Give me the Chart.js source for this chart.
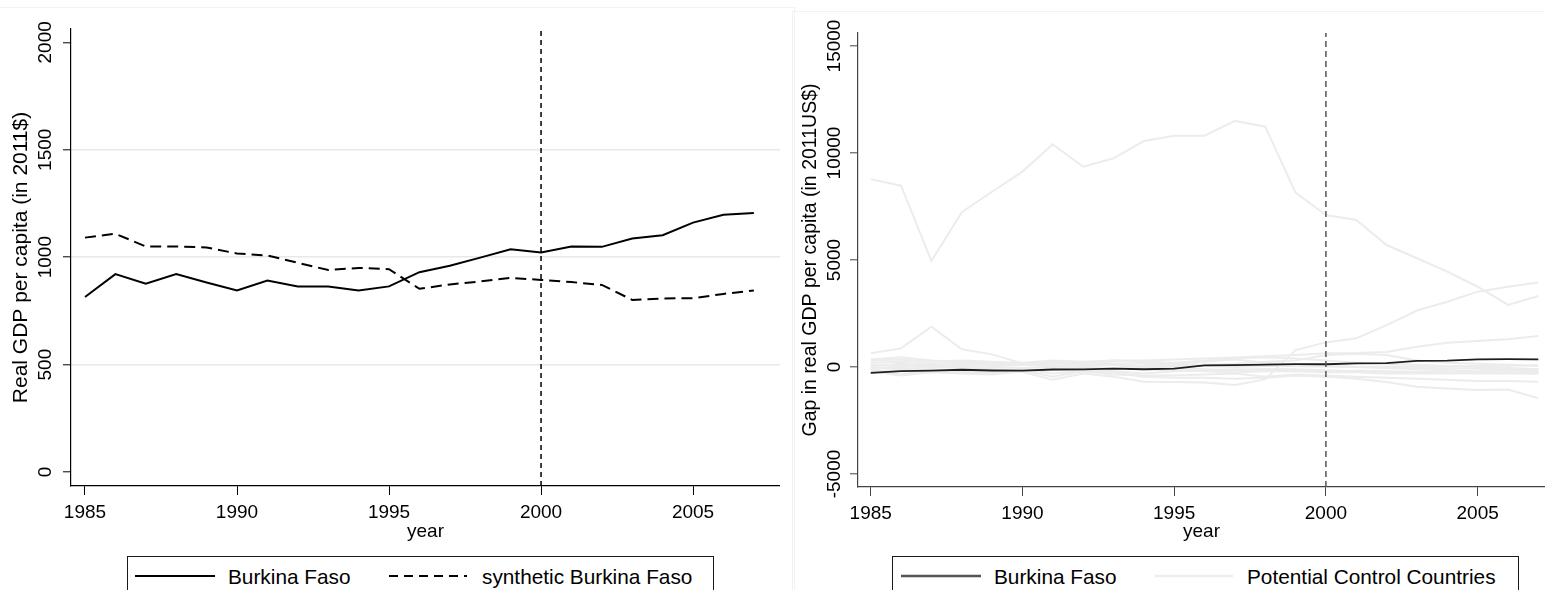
<!DOCTYPE html>
<html>
<head>
<meta charset="utf-8">
<script src="https://cdn.jsdelivr.net/npm/chart.js@4.4.1/dist/chart.umd.min.js"></script>
<style>
  html, body { margin: 0; padding: 0; background: #fff; width: 1545px; height: 590px; overflow: hidden;
    font-family: "Liberation Sans", Arial, sans-serif; }
  canvas { position: absolute; top: 0; }
  #gdpChart { left: 0; }
  #gapChart { left: 780px; }
  .region { position: absolute; border: 1px solid #f2f2f2; box-sizing: border-box; pointer-events: none; }
  .legend { position: absolute; top: 556px; height: 60px; border: 1px solid #1a1a1a; box-sizing: border-box; background: transparent; }
  .sample { position: absolute; top: 570px; }
  .lbl { position: absolute; top: 565px; font-size: 20.8px; line-height: 23px; color: #000; white-space: nowrap; }
</style>
</head>
<body>
<div class="region" style="left:-2px; top:7px; width:797px; height:600px;"></div>
<div class="region" style="left:792px; top:11px; width:760px; height:600px;"></div>
<canvas id="gdpChart" width="780" height="550"></canvas>
<canvas id="gapChart" width="765" height="550"></canvas>

<div class="legend" style="left:127px; width:587px;"></div>
<svg class="sample" style="left:135px" width="80" height="12"><line x1="0" y1="6" x2="80" y2="6" stroke="#000" stroke-width="2"/></svg>
<div class="lbl" id="lgA" style="left:228px;"></div>
<svg class="sample" style="left:389px" width="78" height="12"><line x1="0" y1="6" x2="78" y2="6" stroke="#000" stroke-width="2" stroke-dasharray="9 6"/></svg>
<div class="lbl" id="lgB" style="left:482px;"></div>

<div class="legend" style="left:892px; width:627px;"></div>
<svg class="sample" style="left:901px" width="80" height="12"><line x1="0" y1="6" x2="80" y2="6" stroke="#555" stroke-width="2.5"/></svg>
<div class="lbl" id="lgC" style="left:994px;"></div>
<svg class="sample" style="left:1155px" width="78" height="12"><line x1="0" y1="6" x2="78" y2="6" stroke="#eeeeee" stroke-width="2.5"/></svg>
<div class="lbl" id="lgD" style="left:1247px;"></div>

<script>
// ---- data ----
const years = [1985, 1986, 1987, 1988, 1989, 1990, 1991, 1992, 1993, 1994, 1995, 1996,
               1997, 1998, 1999, 2000, 2001, 2002, 2003, 2004, 2005, 2006, 2007];
const xTickYears = [1985, 1990, 1995, 2000, 2005];
const treatYear = 2000;
const gdpTicks = [0, 500, 1000, 1500, 2000];
const gapTicks = [-5000, 0, 5000, 10000, 15000];

// real GDP per capita, 2011 $
const burkinaGdp   = [815, 921, 877, 921, 882, 845, 891, 864, 864, 845, 864, 930,
                      960, 998, 1037, 1022, 1050, 1048, 1087, 1102, 1161, 1197, 1206];
const syntheticGdp = [1091, 1109, 1050, 1050, 1045, 1017, 1008, 974, 940, 950, 944, 853,
                      873, 887, 904, 894, 884, 871, 801, 808, 809, 829, 845];

// gap between each unit and its synthetic counterpart, 2011 US$
const burkinaGap = [-276, -188, -173, -129, -163, -172, -117, -110, -76, -105, -80, 77,
                    87, 111, 133, 128, 166, 177, 286, 294, 352, 368, 361];
const control01 = [8780, 8470, 4950, 7230, 8190, 9130, 10410, 9360, 9750, 10560, 10810, 10810,
                   11500, 11230, 8150, 7100, 6870, 5700, 5080, 4460, 3750, 2900, 3320];
const control02 = [-150, -200, -100, -250, -200, -220, -600, -300, -450, -690, -700, -720,
                   -840, -580, 790, 1150, 1340, 1960, 2640, 3050, 3520, 3750, 3950];
const control03 = [640, 870, 1880, 830, 590, 170, 250, 150, 100, 200, 150, 250,
                   350, 200, 100, 50, 0, -50, -100, -150, -200, -150, -200];
const control04 = [300, 350, 250, 300, 250, 200, 300, 250, 300, 300, 350, 400,
                   450, 500, 560, 640, 650, 700, 950, 1130, 1220, 1300, 1450];
const control05 = [-100, -350, -150, -300, -250, -150, -450, -200, -250, -450, -500, -500,
                   -550, -500, -400, -450, -550, -700, -920, -1000, -1075, -1050, -1460];
const control06 = [50, 150, 50, 100, 150, 100, 50, 150, 100, 0, 50, 100,
                   150, 250, 300, 560, 620, 560, 300, 200, 150, 100, 50];
const control07 = [-300, -100, -250, -200, -300, -100, -300, -200, -350, -400, -400, -350,
                   -300, -450, -350, -400, -450, -500, -550, -600, -650, -650, -690];
const control08 = [200, 250, 150, 200, 180, 150, 200, 250, 180, 150, 120, 100,
                   80, 60, 40, 20, 0, -20, -40, -60, -80, -100, -120];
const control09 = [-200, -400, -250, -300, -350, -200, -100, -150, -200, -300, -200, -150,
                   -100, -120, -150, -200, -180, -200, -220, -250, -260, -270, -280];
const control10 = [100, 50, 100, 50, 0, -50, 0, 50, 100, 0, -50, -100,
                   -150, -100, -100, -150, -200, -220, -250, -280, -300, -300, -320];
const control11 = [350, 450, 300, 250, 200, 100, 150, 200, 300, 250, 200, 300,
                   400, 450, 400, 300, 200, 150, 100, 50, 0, -50, -100];
const control12 = [0, -100, 0, -50, -100, -150, -100, -50, -50, -100, -150, -200,
                   -250, -200, -200, -250, -250, -300, -300, -300, -280, -260, -250];
const control13 = [-50, 0, 50, 0, 50, 100, 50, 0, -50, 50, 100, 50,
                   0, 50, 100, 50, 0, 20, 30, 40, 50, 60, 80];
const controlGaps = [control01, control02, control03, control04, control05, control06, control07,
                     control08, control09, control10, control11, control12, control13];

const gdpRange = { min: -65, max: 2062 };
const gapRange = { min: -5607, max: 15607 };
const yearRange = { min: 1984.54, max: 2007.86 };
const gapYearRange = { min: 1984.58, max: 2007.22 };

const txt = {
  gdpTitle: 'Real GDP per capita (in 2011$)',
  gapTitle: 'Gap in real GDP per capita (in 2011US$)',
  xTitle: 'year',
  bf: 'Burkina Faso',
  synth: 'synthetic Burkina Faso',
  controls: 'Potential Control Countries'
};
document.getElementById('lgA').textContent = txt.bf;
document.getElementById('lgB').textContent = txt.synth;
document.getElementById('lgC').textContent = txt.bf;
document.getElementById('lgD').textContent = txt.controls;

// ---- helpers ----
const FONT = '"Liberation Sans", Arial, sans-serif';
const pts = (vals) => years.map((yr, i) => ({ x: yr, y: vals[i] }));

// y tick labels drawn rotated, Stata style
const rotatedYTicks = {
  id: 'rotatedYTicks',
  afterDraw(chart, args, opts) {
    const ys = chart.scales.y, ctx = chart.ctx;
    ctx.save();
    ctx.font = '19px ' + FONT;
    ctx.fillStyle = opts.color || '#000';
    ctx.textAlign = 'center';
    ctx.textBaseline = 'middle';
    ys.ticks.forEach(t => {
      const py = ys.getPixelForValue(t.value);
      ctx.save();
      ctx.translate(chart.chartArea.left - opts.offset, py);
      ctx.rotate(-Math.PI / 2);
      ctx.fillText(String(t.value), 0, 0);
      ctx.restore();
    });
    ctx.restore();
  }
};

function xScale(range, axisColor, height) {
  return {
    type: 'linear', min: range.min, max: range.max,
    afterBuildTicks: s => { s.ticks = xTickYears.map(v => ({ value: v })); },
    afterFit: s => { s.height = height; },
    grid: { drawOnChartArea: false, tickLength: 9, tickColor: axisColor, tickWidth: 1 },
    border: { color: axisColor, width: 1.2 },
    ticks: { color: '#000', font: { family: FONT, size: 19 }, padding: 6, maxRotation: 0, autoSkip: false,
             callback: v => String(v) },
    title: { display: true, text: txt.xTitle, color: '#000', font: { family: FONT, size: 19 },
             padding: { top: 0, bottom: 7 } }
  };
}

function yScale(range, tickVals, width, title, titleSize, titlePad, axisColor, gridVals) {
  return {
    type: 'linear', min: range.min, max: range.max,
    afterBuildTicks: s => { s.ticks = tickVals.map(v => ({ value: v })); },
    afterFit: s => { s.width = width; },
    grid: {
      drawOnChartArea: gridVals.length > 0,
      color: c => (c.tick && gridVals.includes(c.tick.value)) ? '#e8e8e8' : 'rgba(0,0,0,0)',
      lineWidth: 1.6,
      tickLength: 8, tickColor: axisColor, tickWidth: 1
    },
    border: { color: axisColor, width: 1.2 },
    ticks: { display: false },
    title: { display: true, text: title, color: '#000', font: { family: FONT, size: titleSize },
             padding: { top: titlePad, bottom: 0 } }
  };
}

const common = {
  responsive: false, animation: false, devicePixelRatio: 1,
  plugins: { legend: { display: false }, tooltip: { enabled: false } },
  elements: { point: { radius: 0 }, line: { tension: 0 } }
};

// ---- left: GDP levels ----
new Chart(document.getElementById('gdpChart'), {
  type: 'line',
  data: {
    datasets: [
      { data: pts(burkinaGdp), borderColor: '#000', borderWidth: 2 },
      { data: pts(syntheticGdp), borderColor: '#000', borderWidth: 2, borderDash: [11, 6] },
      { data: [{ x: treatYear, y: gdpRange.min }, { x: treatYear, y: gdpRange.max }],
        borderColor: '#000', borderWidth: 1.5, borderDash: [5, 4] }
    ]
  },
  options: {
    ...common,
    layout: { padding: { top: 29, left: 0, right: 0, bottom: 0 } },
    scales: {
      x: xScale(yearRange, '#000', 64),
      y: yScale(gdpRange, gdpTicks, 71, txt.gdpTitle, 21, 9, '#000', [500, 1000, 1500])
    },
    plugins: { ...common.plugins, rotatedYTicks: { offset: 25, color: '#000' } }
  },
  plugins: [rotatedYTicks]
});

// ---- right: gaps for Burkina Faso and the donor pool ----
const gapSets = controlGaps.map((vals, i) => ({
  data: pts(vals), borderColor: '#ececec', borderWidth: 2, order: 10 + i
}));
gapSets.push({ data: pts(burkinaGap), borderColor: '#1e1e1e', borderWidth: 1.8, order: 1 });
gapSets.push({ data: [{ x: treatYear, y: gapRange.min }, { x: treatYear, y: gapRange.max }],
  borderColor: '#555', borderWidth: 1.5, borderDash: [6, 4], order: 0 });

new Chart(document.getElementById('gapChart'), {
  type: 'line',
  data: { datasets: gapSets },
  options: {
    ...common,
    layout: { padding: { top: 33, left: 0, right: 0, bottom: 0 } },
    scales: {
      x: xScale(gapYearRange, '#444', 63),
      y: yScale(gapRange, gapTicks, 78, txt.gapTitle, 19.5, 19, '#444', [])
    },
    plugins: { ...common.plugins, rotatedYTicks: { offset: 23.5, color: '#000' } }
  },
  plugins: [rotatedYTicks]
});
</script>
</body>
</html>
